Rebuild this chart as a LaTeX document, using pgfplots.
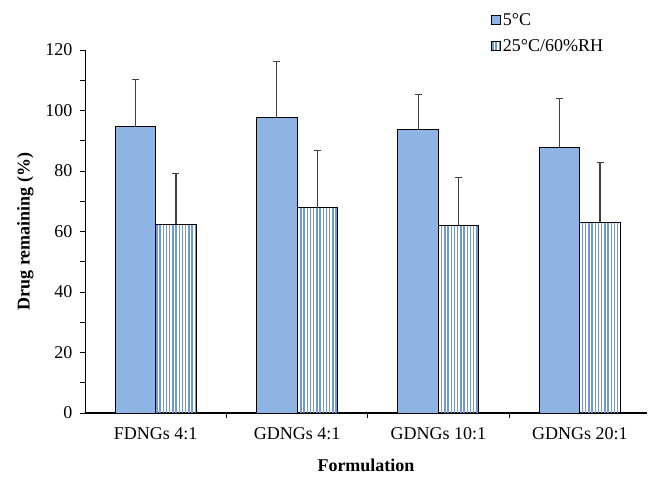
\documentclass[border=0pt]{standalone}
\usepackage{fontspec}
\setmainfont{Liberation Serif}
\usepackage{pgfplots}
\pgfplotsset{compat=1.18}
\usetikzlibrary{patterns.meta}
\definecolor{barblue}{HTML}{8EB4E3}
\definecolor{stripeblue}{HTML}{6A9BE0}
\definecolor{errgray}{HTML}{404040}
\begin{document}
\begin{tikzpicture}[font=\fontsize{18bp}{21bp}\selectfont]
\useasboundingbox (-85bp,-65bp) rectangle (564bp,413bp);
\begin{axis}[at={(0,0)}, anchor=south west, scale only axis,
  width=562bp, height=363bp,
  xmin=-0.5, xmax=3.475, ymin=0, ymax=120,
  ybar=0pt, bar width=40.5bp,
  axis lines=left, axis line style={-},
  x axis line style={line width=1.6bp},
  y axis line style={line width=0.8bp},
  tick align=outside, major tick length=5bp, minor tick length=5bp,
  tick style={black, line width=0.8bp},
  ytick={0,20,...,120}, minor y tick num=1,
  xtick={0.5,1.5,2.5}, xticklabels={},
  extra x ticks={0,1,2,3},
  extra x tick labels={FDNGs 4:1, GDNGs 4:1, GDNGs 10:1, GDNGs 20:1},
  extra x tick style={major tick length=0pt, tick style={draw=none}},
  x tick label style={yshift=-11bp},
  y tick label style={xshift=-4bp},
  /pgf/number format/assume math mode=true,
  ylabel={\textbf{Drug remaining (\%)}},
  xlabel={\textbf{Formulation}},
  ylabel style={yshift=5bp},
  xlabel style={yshift=-7bp},
  legend style={draw=none, fill=none, at={(0.717,1.113)}, anchor=north west,
    row sep=9bp, font=\fontsize{18bp}{21bp}\selectfont},
  legend cell align=left,
  legend image code/.code={\draw[#1, line width=0.8bp] (0bp,-4.5bp) rectangle (9bp,4.5bp);},
  error bars/error bar style={line width=1.2bp, errgray},
  error bars/error mark options={rotate=90, mark size=3.5bp, line width=1.2bp, errgray},
]
\addplot[fill=barblue, draw=black, line width=1bp,
  error bars/.cd, y dir=plus, y explicit]
  coordinates {(0,94.6) +- (0,15.7) (1,97.7) +- (0,18.4) (2,93.6) +- (0,11.7) (3,87.8) +- (0,16.2)};
\addplot[pattern={Lines[angle=90,distance=3.2bp,line width=1.4bp]}, pattern color=stripeblue, draw=black, line width=1bp,
  error bars/.cd, y dir=plus, y explicit]
  coordinates {(0,62.4) +- (0,16.8) (1,67.8) +- (0,18.9) (2,62.1) +- (0,15.8) (3,63.1) +- (0,19.6)};
\legend{5°C, 25°C/60\%RH}
\end{axis}
\end{tikzpicture}
\end{document}
